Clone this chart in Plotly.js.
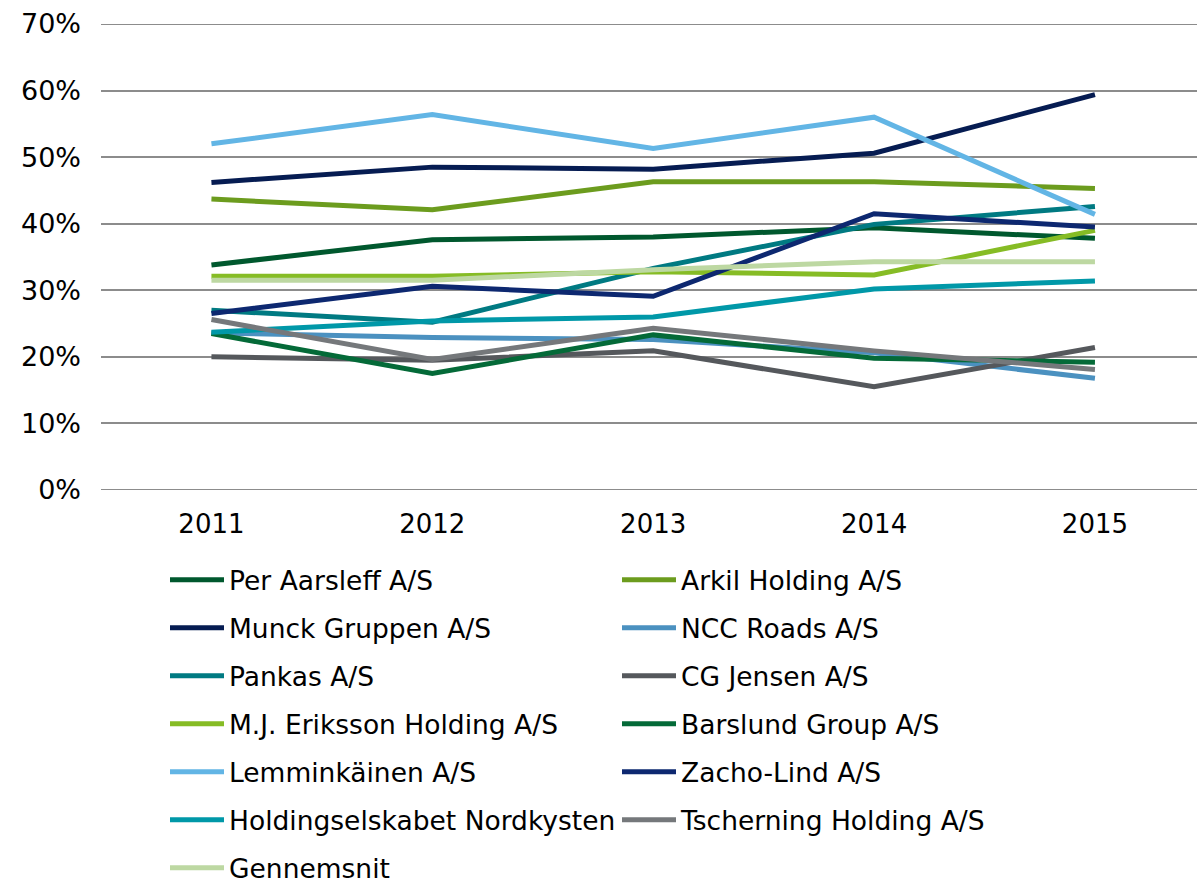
<!DOCTYPE html>
<html>
<head>
<meta charset="utf-8">
<script src="https://cdn.plot.ly/plotly-3.0.1.min.js"></script>
<style>
  html, body { margin: 0; padding: 0; background: #fff; }
  #chart { width: 1197px; height: 882px; }
</style>
</head>
<body>
<div id="chart"></div>
<script>
// ---- data (percent) ----
const years = ['2011', '2012', '2013', '2014', '2015'];

const perAarsleff      = [33.8, 37.6, 38.0, 39.4, 37.8];
const arkilHolding     = [43.7, 42.1, 46.3, 46.3, 45.3];
const munckGruppen     = [46.2, 48.5, 48.2, 50.6, 59.4];
const nccRoads         = [23.6, 22.9, 22.6, 20.6, 16.8];
const pankas           = [27.0, 25.2, 33.3, 39.9, 42.6];
const cgJensen         = [20.0, 19.5, 20.9, 15.5, 21.4];
const mjEriksson       = [32.1, 32.1, 32.8, 32.3, 39.0];
const barslundGroup    = [23.5, 17.5, 23.3, 19.8, 19.2];
const lemminkainen     = [52.0, 56.4, 51.3, 56.0, 41.4];
const zachoLind        = [26.5, 30.6, 29.1, 41.5, 39.5];
const nordkysten       = [23.7, 25.4, 26.0, 30.2, 31.4];
const tscherning       = [25.6, 19.6, 24.3, 20.9, 18.1];
const gennemsnit       = [31.5, 31.5, 33.1, 34.3, 34.3];

const seriesNames = [
  'Per Aarsleff A/S', 'Arkil Holding A/S',
  'Munck Gruppen A/S', 'NCC Roads A/S',
  'Pankas A/S', 'CG Jensen A/S',
  'M.J. Eriksson Holding A/S', 'Barslund Group A/S',
  'Lemminkäinen A/S', 'Zacho-Lind A/S',
  'Holdingselskabet Nordkysten', 'Tscherning Holding A/S',
  'Gennemsnit'
];
const seriesValues = [
  perAarsleff, arkilHolding,
  munckGruppen, nccRoads,
  pankas, cgJensen,
  mjEriksson, barslundGroup,
  lemminkainen, zachoLind,
  nordkysten, tscherning,
  gennemsnit
];
const seriesColors = [
  '#00582e', '#6c9c1e',
  '#061c52', '#4b91c0',
  '#007a82', '#55585c',
  '#86bc25', '#046a38',
  '#62b5e5', '#0d2870',
  '#0098a8', '#75787b',
  '#bdd8a2'
];

const FONT = 'DejaVu Sans, Verdana, sans-serif';
const W = 1197, H = 882;
const GRID = '#8c8c8c';

const traces = [];
const layout = {
  width: W, height: H,
  margin: { l: 101, r: 0, t: 24, b: 392, pad: 0, autoexpand: false },
  paper_bgcolor: '#ffffff',
  plot_bgcolor: '#ffffff',
  showlegend: true,
  hovermode: false,
  font: { family: FONT, size: 26, color: '#000000' },
  xaxis: {
    type: 'category',
    range: [-0.5, 4.462],
    showgrid: false,
    zeroline: false,
    showline: false,
    ticks: '',
    ticklabelstandoff: 16,
    tickfont: { family: FONT, size: 26, color: '#000000' },
    automargin: false,
    fixedrange: true
  },
  yaxis: {
    range: [0, 70],
    dtick: 10,
    tick0: 0,
    ticksuffix: '%',
    showgrid: true,
    gridcolor: GRID,
    gridwidth: 2,
    zeroline: false,
    showline: false,
    ticks: '',
    ticklabelstandoff: 19,
    tickfont: { family: FONT, size: 27, color: '#000000' },
    automargin: false,
    fixedrange: true
  },
  shapes: [0, 70].map(v => ({
    type: 'line', xref: 'paper', yref: 'y', x0: 0, x1: 1, y0: v, y1: v,
    line: { color: GRID, width: 2 }, layer: 'below'
  }))
};

// legend entries: two columns, one legend per entry for exact placement
const colX = [165, 617];
const rowTop0 = 556, rowStep = 48;
seriesNames.forEach((name, i) => {
  const legendId = i === 0 ? 'legend' : 'legend' + (i + 1);
  traces.push({
    type: 'scatter',
    mode: 'lines',
    name: name,
    x: years,
    y: seriesValues[i],
    line: { color: seriesColors[i], width: 5 },
    legend: legendId
  });
  const col = i % 2, row = Math.floor(i / 2);
  layout[legendId] = {
    xref: 'container', yref: 'container',
    x: colX[col] / W,
    y: 1 - (rowTop0 + row * rowStep) / H,
    xanchor: 'left', yanchor: 'top',
    bgcolor: 'rgba(0,0,0,0)',
    borderwidth: 0,
    itemwidth: 54,
    font: { family: FONT, size: 26.5, color: '#000000' },
    itemclick: false, itemdoubleclick: false
  };
});

Plotly.newPlot('chart', traces, layout, { displayModeBar: false, staticPlot: true });
</script>
</body>
</html>
